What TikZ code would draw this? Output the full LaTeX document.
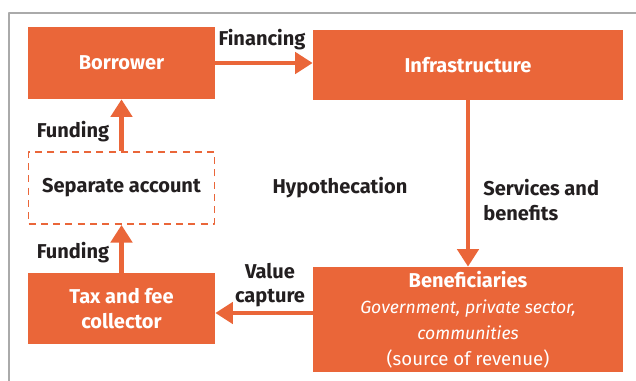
\documentclass[tikz,border=0pt]{standalone}
\usepackage{fontspec}
\setmainfont{Fira Sans}
\usetikzlibrary{arrows.meta}
\definecolor{hborange}{RGB}{234,102,57}
\definecolor{hbtext}{RGB}{35,31,32}
\definecolor{hbframe}{RGB}{170,170,170}

\begin{document}
\begin{tikzpicture}[line cap=round,line join=round,x=0.02cm,y=-0.02cm,
  box/.style={fill=hborange,text=white,font=\fontsize{11.4}{14.5}\selectfont\bfseries,align=center,inner sep=0pt},
  lbl/.style={text=hbtext,font=\fontsize{11.4}{13.8}\selectfont\bfseries,inner sep=0pt},
  flow/.style={draw=hborange,line width=2.8pt,line cap=butt,-{Triangle[length=10pt,width=12pt]}}]
\useasboundingbox (0,0) rectangle (636,381);
\draw [hbframe,line width=0.6pt] (9,381) -- (9,13) -- (636,13);
% boxes
\node [box,minimum width=3.74cm,minimum height=1.44cm] (Borrower) at (121.5,63) {Borrower};
\node [box,minimum width=6.2cm,minimum height=1.4cm] (Infrastructure) at (468,65) {Infrastructure};
\node [box,fill=none,text=hbtext,draw=hborange,line width=1.1pt,dash pattern=on 4pt off 3pt,line cap=butt,minimum width=3.72cm,minimum height=1.44cm] (Separate) at (121.5,188) {Separate account};
\node [box,minimum width=3.74cm,minimum height=1.42cm] (Tax) at (121.5,308.5) {Tax and fee\\collector};
\node [box,font=\fontsize{10.6}{14.8}\selectfont,minimum width=6.2cm,minimum height=2.1cm] (Beneficiaries) at (468,319.5) {{\fontsize{11.4}{14.8}\selectfont\bfseries Beneficiaries}\\{\fontsize{10}{14.8}\selectfont\itshape Government, private sector,}\\{\fontsize{10}{14.8}\selectfont\itshape communities}\\(source of revenue)};
\coordinate (vc) at (313,313);
% arrows
\draw [flow] (Borrower.east) -- (Borrower.east -| Infrastructure.west);
\draw [flow] (Separate.north) -- (Borrower.south);
\draw [flow] (Tax.north) -- (Separate.south);
\draw [flow] (Infrastructure.south) -- (Beneficiaries.north);
\draw [flow] (vc) -- (vc -| Tax.east);
% labels
\node [lbl] (financing) at (262,40) {Financing};
\node [lbl] (funding1) at (73,132) {Funding};
\node [lbl] (funding2) at (73,253) {Funding};
\node [lbl] (hypothecation) at (340,188) {Hypothecation};
\node [lbl,anchor=west,align=left] (services) at (483,200) {Services and\\benefits};
\node [lbl,align=center] (capture) at (270,285) {Value\\capture};
\end{tikzpicture}
\end{document}
